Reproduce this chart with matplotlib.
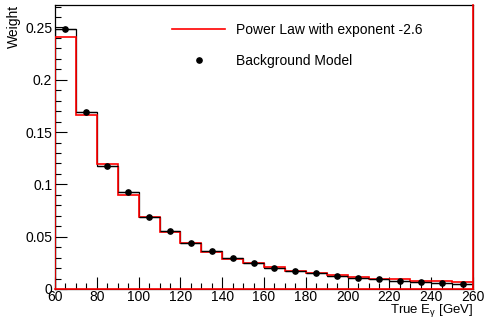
import numpy as np
import matplotlib
matplotlib.use("Agg")
import matplotlib.pyplot as plt
from matplotlib.lines import Line2D
from matplotlib.ticker import MultipleLocator

plt.rcParams['font.family'] = ['Liberation Sans', 'DejaVu Sans']
plt.rcParams['mathtext.default'] = 'regular'

# bin edges in GeV (10 GeV bins from 60 to 260)
edges = np.arange(60, 261, 10)
centers = edges[:-1] + 5

# background model (black points / histogram)
background = [0.2486, 0.1695, 0.1180, 0.0930, 0.0691, 0.0557, 0.0443, 0.0360,
              0.0293, 0.0246, 0.0198, 0.0172, 0.0150, 0.0127, 0.0108, 0.0093,
              0.0080, 0.0067, 0.0060, 0.0051]
# power law with exponent -2.6 (red histogram)
power_law = [0.2406, 0.1663, 0.1195, 0.0899, 0.0690, 0.0548, 0.0440, 0.0355,
             0.0290, 0.0245, 0.0210, 0.0176, 0.0155, 0.0134, 0.0116, 0.0100,
             0.0092, 0.0081, 0.0075, 0.0067]

ymax = 0.2715
fs = 10

fig = plt.figure(figsize=(4.89, 3.2), dpi=100)
ax = fig.add_axes([55 / 489, 31 / 320, 418 / 489, 284 / 320])

# black histogram outline + points with bin-width error bars
ax.stairs(background, edges, color='black', lw=0.9)
ax.errorbar(centers, background, xerr=5, fmt='o', color='black', ms=3.8,
            elinewidth=0.9, capsize=0, zorder=4)

# red power-law histogram (ROOT draws the closing edge to the frame top)
ax.stairs(power_law, edges, color='red', lw=1.2, zorder=3)
ax.plot([edges[-1], edges[-1]], [0, ymax], color='red', lw=1.2, zorder=5, clip_on=False)
ax.plot([edges[0], edges[-1]], [0, 0], color='red', lw=1.2, zorder=5, clip_on=False)

ax.set_xlim(60, 260)
ax.set_ylim(0, ymax)

ax.xaxis.set_major_locator(MultipleLocator(20))
ax.xaxis.set_minor_locator(MultipleLocator(5))
ax.yaxis.set_minor_locator(MultipleLocator(0.01))
ax.set_yticks([0, 0.05, 0.1, 0.15, 0.2, 0.25])
ax.set_yticklabels(['0', '0.05', '0.1', '0.15', '0.2', '0.25'])

ax.tick_params(which='both', direction='in', top=False, right=False,
               labelsize=fs, width=0.8, colors='black')
ax.tick_params(which='major', length=8.5)
ax.tick_params(which='minor', length=4.5)
ax.tick_params(axis='x', pad=0.5)
ax.tick_params(axis='y', pad=2)
for sp in ax.spines.values():
    sp.set_linewidth(0.9)

ax.set_xlabel(r'True E$_{\gamma}$ [GeV]', fontsize=9.5, loc='right', labelpad=-1.5)
ax.set_ylabel('Weight', fontsize=fs, loc='top', labelpad=3)

legend_handles = [Line2D([], [], color='red', lw=1.2),
                  Line2D([], [], ls='none', marker='o', color='black', ms=3.8)]
legend_labels = ['Power Law with exponent -2.6', 'Background Model']
ax.legend(legend_handles, legend_labels,
          loc='upper left', bbox_to_anchor=(0.2505, 0.981), frameon=False,
          fontsize=fs, handlelength=3.8, handletextpad=0.8, labelspacing=1.25)

fig.savefig('out.png', dpi=100)
